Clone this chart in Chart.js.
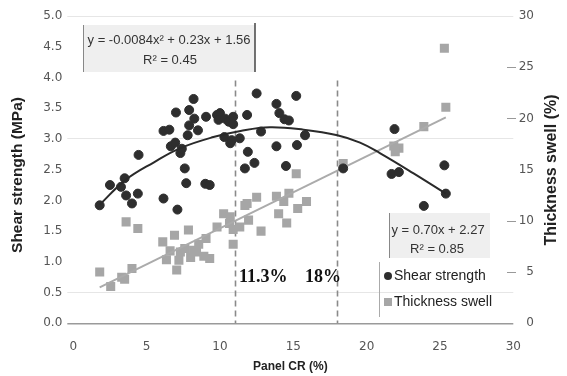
<!DOCTYPE html>
<html>
<head>
<meta charset="utf-8">
<script src="https://cdn.jsdelivr.net/npm/chart.js@4.4.1/dist/chart.umd.min.js"></script>
<style>
    html, body { margin: 0; padding: 0; background: #fff; }
    #wrap { width: 567px; height: 376px; }
</style>
</head>
<body>
<div id="wrap"><canvas id="chart" width="567" height="376"></canvas></div>
<script>
// --- data ---
const shearCR = [1.8, 2.5, 3.25, 3.5, 3.6, 4.0, 4.4, 4.45, 6.15, 7.1, 6.15, 6.55, 6.65, 6.95, 7.3, 7.4,
    7.6, 7.7, 9.0, 9.3, 7.0, 7.8, 7.9, 7.9, 8.2, 8.25, 8.5, 9.05, 9.8, 10.0, 9.9, 10.35, 10.6, 10.9,
    10.9, 10.3, 10.7, 10.8, 11.85, 12.5, 15.2, 13.85, 14.05, 14.4, 14.7, 11.35, 12.8, 15.8, 11.9,
    13.85, 15.25, 12.35, 11.7, 14.5, 18.4, 21.9, 25.3, 21.7, 22.2, 25.4, 23.9];
const shearStrength = [1.92, 2.25, 2.22, 2.36, 2.08, 1.95, 2.11, 2.74, 2.03, 1.85, 3.13, 3.15, 2.88, 2.94,
    2.77, 2.84, 2.52, 2.28, 2.27, 2.25, 3.43, 3.06, 3.22, 3.47, 3.65, 3.33, 3.14, 3.36, 3.39, 3.42, 3.31,
    3.33, 3.28, 3.36, 3.24, 3.03, 2.93, 2.98, 3.39, 3.74, 3.70, 3.57, 3.42, 3.32, 3.30, 3.01, 3.12, 3.06,
    2.79, 2.88, 2.90, 2.61, 2.52, 2.56, 2.52, 3.16, 2.57, 2.43, 2.46, 2.11, 1.91];

const swellCR = [1.8, 2.55, 3.3, 3.5, 4.0, 3.6, 4.4, 6.1, 6.9, 6.6, 6.35, 7.05, 7.3, 7.2, 7.6, 7.85, 8.0,
    8.2, 8.4, 8.55, 8.9, 9.05, 9.3, 9.8, 10.25, 10.65, 10.9, 10.9, 11.35, 11.7, 11.85, 12.5, 11.95, 12.8,
    13.85, 14.7, 14.0, 14.55, 15.3, 15.9, 15.2, 14.35, 10.7, 18.4, 25.3, 25.4, 23.9, 21.85, 22.2, 21.95];
const thicknessSwell = [5.0, 3.6, 4.5, 4.3, 5.35, 9.9, 9.25, 7.95, 8.6, 7.07, 6.2, 5.2, 6.97, 6.16, 7.3,
    9.1, 6.42, 7.14, 6.97, 7.72, 6.55, 8.28, 6.32, 9.41, 10.7, 9.75, 9.16, 7.72, 9.41, 11.5, 11.7, 12.3,
    10.07, 9.0, 12.4, 12.7, 10.7, 9.8, 11.2, 11.9, 14.6, 11.9, 10.4, 15.6, 26.85, 21.1, 19.2, 17.3, 17.1, 16.75];

// trend lines as traced on the picture
const polyTrendCR = [1.8, 3.55, 5.5, 7.3, 9.55, 11.4, 13.4, 15.7, 18, 19.55, 20.9, 23.2, 25.4];
const polyTrendShear = [1.93, 2.33, 2.62, 2.85, 3.03, 3.13, 3.19, 3.15, 3.06, 2.94, 2.77, 2.44, 2.11];
const linTrendCR = [1.8, 25.4];
const linTrendSwell = [3.5, 20.1];

const markerCR = [11.05, 18.0];
const markerLabels = ["11.3%", "18%"];
const markerTop = 3.95;

const shearTicks = [0, 0.5, 1, 1.5, 2, 2.5, 3, 3.5, 4, 4.5, 5];
const shearGridShown = [5, 3, 0.5];
const swellTicks = [0, 5, 10, 15, 20, 25, 30];
const swellTickMarks = [5, 10, 20, 25];

const toPoints = (xs, ys) => xs.map((x, i) => ({ x: x, y: ys[i] }));

// --- overlay: dashed markers, equation boxes, legend, axis titles ---
function drawText(ctx, text, x, y, font, color, align) {
    ctx.font = font;
    ctx.fillStyle = color;
    ctx.textAlign = align || "center";
    ctx.textBaseline = "middle";
    ctx.fillText(text, x, y);
}

function vLine(ctx, x, y1, y2, color, width) {
    ctx.beginPath();
    ctx.strokeStyle = color;
    ctx.lineWidth = width;
    ctx.moveTo(x, y1);
    ctx.lineTo(x, y2);
    ctx.stroke();
}

const overlayPlugin = {
    id: "overlay",
    beforeDatasetsDraw(chart) {
        const ctx = chart.ctx;
        const xs = chart.scales.x;
        const ys = chart.scales.y;
        ctx.save();
        ctx.setLineDash([6, 4]);
        markerCR.forEach(v => {
            const px = Math.round(xs.getPixelForValue(v)) + 0.5;
            vLine(ctx, px, ys.getPixelForValue(markerTop), ys.getPixelForValue(0), "#8a8a8a", 1.6);
        });
        ctx.restore();
    },
    afterDraw(chart) {
        const ctx = chart.ctx;
        const xs = chart.scales.x;
        const ys2 = chart.scales.y2;
        ctx.save();

        // marker labels
        drawText(ctx, markerLabels[0], 239, 277, "bold 18px 'Liberation Serif'", "#111", "left");
        drawText(ctx, markerLabels[1], 305, 277, "bold 18px 'Liberation Serif'", "#111", "left");

        // polynomial equation box
        ctx.fillStyle = "#efefef";
        ctx.fillRect(83, 25, 172, 47);
        vLine(ctx, 83.5, 25, 72, "#888", 1);
        vLine(ctx, 255, 23, 72, "#444", 1.5);
        drawText(ctx, "y = -0.0084x² + 0.23x + 1.56", 169, 40, "13px 'Liberation Sans'", "#333");
        drawText(ctx, "R² = 0.45", 170, 60, "13px 'Liberation Sans'", "#333");

        // linear equation box
        ctx.fillStyle = "#efefef";
        ctx.fillRect(389, 213, 101, 45);
        vLine(ctx, 389.5, 213, 258, "#888", 1);
        drawText(ctx, "y = 0.70x + 2.27", 438, 230, "13px 'Liberation Sans'", "#333");
        drawText(ctx, "R² = 0.85", 437, 249, "13px 'Liberation Sans'", "#333");

        // legend
        vLine(ctx, 379.5, 262, 317, "#aaa", 1);
        ctx.fillStyle = "#2e2e2e";
        ctx.beginPath();
        ctx.arc(388, 276, 4, 0, Math.PI * 2);
        ctx.fill();
        drawText(ctx, "Shear strength", 394, 276, "14px 'Liberation Sans'", "#222", "left");
        ctx.fillStyle = "#a6a6a6";
        ctx.fillRect(384, 298, 8, 8);
        drawText(ctx, "Thickness swell", 394, 302, "14px 'Liberation Sans'", "#222", "left");

        // right axis: small tick marks and right-aligned labels
        swellTickMarks.forEach(v => {
            const py = Math.round(ys2.getPixelForValue(v)) + 0.5;
            ctx.beginPath();
            ctx.strokeStyle = "#999";
            ctx.lineWidth = 1;
            ctx.moveTo(507, py);
            ctx.lineTo(516, py);
            ctx.stroke();
        });
        swellTicks.forEach(v => {
            drawText(ctx, String(v), 534, ys2.getPixelForValue(v), "12px 'DejaVu Sans'", "#555", "right");
        });

        // axis titles
        drawText(ctx, "Panel CR (%)", (xs.left + xs.right) / 2 - 3, 367, "bold 12px 'Liberation Sans'", "#222");
        ctx.translate(18, 175);
        ctx.rotate(-Math.PI / 2);
        drawText(ctx, "Shear strength (MPa)", 0, 0, "bold 15.5px 'Liberation Sans'", "#222");
        ctx.setTransform(1, 0, 0, 1, 0, 0);
        ctx.translate(552, 170);
        ctx.rotate(-Math.PI / 2);
        drawText(ctx, "Thickness swell (%)", 0, 0, "bold 16px 'Liberation Sans'", "#222");
        ctx.restore();
    }
};

Chart.defaults.font.family = "'DejaVu Sans'";
Chart.defaults.font.size = 12;
Chart.defaults.color = "#555";

new Chart(document.getElementById("chart"), {
    type: "scatter",
    data: {
        datasets: [
            {
                type: "line",
                label: "Poly trend",
                data: toPoints(polyTrendCR, polyTrendShear),
                yAxisID: "y",
                borderColor: "#2a2a2a",
                borderWidth: 2,
                pointRadius: 0,
                tension: 0.4,
                fill: false,
                order: 0
            },
            {
                label: "Shear strength",
                data: toPoints(shearCR, shearStrength),
                yAxisID: "y",
                backgroundColor: "#2e2e2e",
                borderColor: "#2e2e2e",
                pointRadius: 4.5,
                pointStyle: "circle",
                order: 1
            },
            {
                type: "line",
                label: "Linear trend",
                data: toPoints(linTrendCR, linTrendSwell),
                yAxisID: "y2",
                borderColor: "#ababab",
                borderWidth: 2,
                pointRadius: 0,
                fill: false,
                order: 2
            },
            {
                label: "Thickness swell",
                data: toPoints(swellCR, thicknessSwell),
                yAxisID: "y2",
                backgroundColor: "#a6a6a6",
                borderColor: "#a6a6a6",
                borderWidth: 0,
                pointRadius: 6.4,
                pointStyle: "rect",
                order: 3
            }
        ]
    },
    options: {
        responsive: false,
        animation: false,
        layout: { padding: { top: 16, left: 0, right: 0, bottom: 0 } },
        plugins: {
            legend: { display: false },
            tooltip: { enabled: false }
        },
        scales: {
            x: {
                type: "linear",
                min: 0,
                max: 30,
                ticks: { stepSize: 5, padding: 16 },
                grid: { display: false, drawTicks: false },
                border: { display: false },
                afterFit: s => { s.height = 52.7; }
            },
            y: {
                position: "left",
                min: 0,
                max: 5,
                afterBuildTicks: s => { s.ticks = shearTicks.map(v => ({ value: v })); },
                ticks: { padding: 5, callback: v => v.toFixed(1) },
                grid: {
                    tickLength: 6,
                    lineWidth: c => (c.tick && c.tick.value === 0 ? 1.5 : 1),
                    color: c => {
                        if (!c.tick) return "rgba(0,0,0,0)";
                        if (c.tick.value === 0) return "#9a9a9a";
                        return shearGridShown.includes(c.tick.value) ? "#e6e6e6" : "rgba(0,0,0,0)";
                    }
                },
                border: { display: false },
                afterFit: s => { s.width = 73.3; }
            },
            y2: {
                position: "right",
                min: 0,
                max: 30,
                afterBuildTicks: s => { s.ticks = swellTicks.map(v => ({ value: v })); },
                ticks: { display: false },
                grid: { display: false, drawTicks: false },
                border: { display: false },
                afterFit: s => { s.width = 53.7; }
            }
        }
    },
    plugins: [overlayPlugin]
});
</script>
</body>
</html>
